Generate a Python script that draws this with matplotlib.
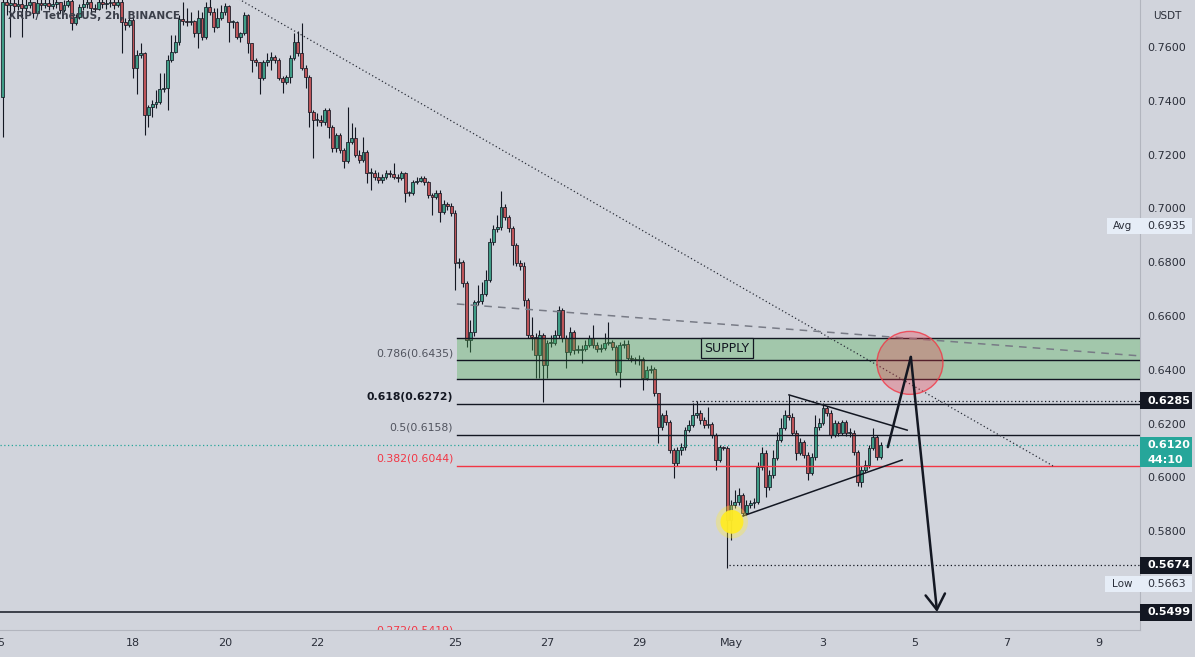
import matplotlib
matplotlib.use('Agg')
import matplotlib.pyplot as plt
import numpy as np
from matplotlib.patches import Rectangle, Ellipse

# ---------------- data ----------------
title = "XRP / TetherUS, 2h, BINANCE"
first_open = 0.7414
start_day = -15.8333      # first candle: Apr 15 04:00 (days relative to May 1 00:00)
bar_days = 1 / 12          # 2h candles

closes = [
    0.7768, 0.7756, 0.7764, 0.7753, 0.7760, 0.7745, 0.7756, 0.7768, 0.7727, 0.7764,
    0.7756, 0.7764, 0.7753, 0.7760, 0.7768, 0.7738, 0.7756, 0.7771, 0.7690, 0.7712,
    0.7749, 0.7760, 0.7768, 0.7745, 0.7742, 0.7768, 0.7760, 0.7764, 0.7768, 0.7756,
    0.7768, 0.7693, 0.7682, 0.7701, 0.7522, 0.7571, 0.7578, 0.7348, 0.7377, 0.7388,
    0.7396, 0.7444, 0.7448, 0.7552, 0.7582, 0.7619, 0.7704, 0.7697, 0.7693, 0.7697,
    0.7652, 0.7708, 0.7637, 0.7749, 0.7731, 0.7675, 0.7708, 0.7731, 0.7753, 0.7693,
    0.7693, 0.7637, 0.7652, 0.7719, 0.7615, 0.7552, 0.7545, 0.7485, 0.7545, 0.7552,
    0.7563, 0.7552, 0.7485, 0.7470, 0.7489, 0.7560, 0.7619, 0.7578, 0.7522, 0.7489,
    0.7359, 0.7329, 0.7329, 0.7322, 0.7366, 0.7303, 0.7225, 0.7273, 0.7217, 0.7177,
    0.7247, 0.7262, 0.7199, 0.7180, 0.7210, 0.7132, 0.7132, 0.7117, 0.7106, 0.7117,
    0.7132, 0.7128, 0.7117, 0.7113, 0.7132, 0.7058, 0.7058, 0.7099, 0.7102, 0.7113,
    0.7099, 0.7050, 0.7043, 0.7058, 0.6987, 0.7017, 0.7009, 0.6983, 0.6797, 0.6801,
    0.6723, 0.6511, 0.6541, 0.6652, 0.6656, 0.6682, 0.6734, 0.6876, 0.6924, 0.6931,
    0.7006, 0.6968, 0.6927, 0.6864, 0.6797, 0.6786, 0.6660, 0.6530, 0.6522, 0.6455,
    0.6530, 0.6418, 0.6500, 0.6500, 0.6530, 0.6623, 0.6519, 0.6467, 0.6541, 0.6474,
    0.6474, 0.6478, 0.6492, 0.6519, 0.6492, 0.6478, 0.6481, 0.6500, 0.6504, 0.6485,
    0.6392, 0.6492, 0.6496, 0.6444, 0.6440, 0.6437, 0.6440, 0.6370, 0.6400, 0.6403,
    0.6314, 0.6188, 0.6232, 0.6206, 0.6102, 0.6054, 0.6102, 0.6113, 0.6177, 0.6195,
    0.6232, 0.6240, 0.6214, 0.6195, 0.6199, 0.6158, 0.6065, 0.6113, 0.6110, 0.5842,
    0.5898, 0.5909, 0.5935, 0.5868, 0.5898, 0.5906, 0.5909, 0.6039, 0.6091, 0.5965,
    0.6009, 0.6073, 0.6140, 0.6184, 0.6232, 0.6225, 0.6166, 0.6091, 0.6132, 0.6084,
    0.6017, 0.6076, 0.6188, 0.6203, 0.6258, 0.6240, 0.6158, 0.6203, 0.6166, 0.6206,
    0.6166, 0.6166, 0.6095, 0.5983, 0.6028, 0.6047, 0.6110, 0.6151, 0.6076, 0.6120,
]
highs = [
    0.7800, 0.7790, 0.7790, 0.7785, 0.7785, 0.7790, 0.7780, 0.7790, 0.7768, 0.7785,
    0.7780, 0.7785, 0.7780, 0.7785, 0.7795, 0.7768, 0.7775, 0.7800, 0.7790, 0.7723,
    0.7760, 0.7780, 0.7790, 0.7785, 0.7760, 0.7785, 0.7780, 0.7780, 0.7790, 0.7780,
    0.7795, 0.7790, 0.7708, 0.7712, 0.7712, 0.7589, 0.7615, 0.7582, 0.7385, 0.7403,
    0.7440, 0.7504, 0.7504, 0.7571, 0.7645, 0.7645, 0.7719, 0.7768, 0.7745, 0.7731,
    0.7701, 0.7738, 0.7731, 0.7768, 0.7790, 0.7745, 0.7745, 0.7756, 0.7764, 0.7756,
    0.7701, 0.7697, 0.7656, 0.7731, 0.7723, 0.7615, 0.7560, 0.7545, 0.7552, 0.7578,
    0.7582, 0.7571, 0.7560, 0.7492, 0.7496, 0.7571, 0.7652, 0.7660, 0.7690, 0.7533,
    0.7496, 0.7366, 0.7355, 0.7348, 0.7374, 0.7374, 0.7311, 0.7281, 0.7281, 0.7225,
    0.7377, 0.7318, 0.7303, 0.7217, 0.7266, 0.7217, 0.7151, 0.7143, 0.7136, 0.7128,
    0.7143, 0.7143, 0.7169, 0.7128, 0.7139, 0.7136, 0.7065, 0.7106, 0.7117, 0.7121,
    0.7121, 0.7102, 0.7058, 0.7069, 0.7069, 0.7032, 0.7024, 0.7020, 0.6994, 0.6816,
    0.6809, 0.6730, 0.6586, 0.6660, 0.6716, 0.6727, 0.6771, 0.6890, 0.6939, 0.6976,
    0.7065, 0.7017, 0.6976, 0.6935, 0.6872, 0.6809, 0.6801, 0.6667, 0.6597, 0.6537,
    0.6548, 0.6537, 0.6511, 0.6530, 0.6548, 0.6637, 0.6630, 0.6530, 0.6560, 0.6548,
    0.6492, 0.6492, 0.6511, 0.6530, 0.6567, 0.6504, 0.6496, 0.6537, 0.6578, 0.6511,
    0.6492, 0.6504, 0.6511, 0.6511, 0.6455, 0.6448, 0.6455, 0.6448, 0.6414, 0.6418,
    0.6411, 0.6314, 0.6240, 0.6251, 0.6214, 0.6110, 0.6113, 0.6128, 0.6188, 0.6214,
    0.6277, 0.6284, 0.6251, 0.6225, 0.6262, 0.6206, 0.6166, 0.6121, 0.6117, 0.6117,
    0.5917, 0.5954, 0.5961, 0.5943, 0.5917, 0.5917, 0.5924, 0.6058, 0.6113, 0.6102,
    0.6028, 0.6102, 0.6169, 0.6221, 0.6251, 0.6306, 0.6240, 0.6177, 0.6147, 0.6140,
    0.6095, 0.6091, 0.6232, 0.6221, 0.6277, 0.6266, 0.6251, 0.6214, 0.6210, 0.6214,
    0.6214, 0.6184, 0.6177, 0.6102, 0.6043, 0.6065, 0.6121, 0.6184, 0.6158, 0.6132,
]
lows = [
    0.7266, 0.7719, 0.7637, 0.7731, 0.7738, 0.7637, 0.7719, 0.7745, 0.7708, 0.7723,
    0.7738, 0.7745, 0.7738, 0.7742, 0.7745, 0.7727, 0.7731, 0.7749, 0.7663, 0.7682,
    0.7704, 0.7738, 0.7745, 0.7731, 0.7731, 0.7738, 0.7745, 0.7742, 0.7749, 0.7742,
    0.7749, 0.7578, 0.7663, 0.7675, 0.7485, 0.7425, 0.7560, 0.7273, 0.7303, 0.7340,
    0.7374, 0.7388, 0.7433, 0.7366, 0.7545, 0.7578, 0.7608, 0.7682, 0.7678, 0.7682,
    0.7637, 0.7597, 0.7626, 0.7630, 0.7719, 0.7656, 0.7671, 0.7701, 0.7719, 0.7619,
    0.7671, 0.7630, 0.7619, 0.7645, 0.7578, 0.7507, 0.7530, 0.7425, 0.7478, 0.7530,
    0.7515, 0.7541, 0.7478, 0.7429, 0.7463, 0.7466, 0.7552, 0.7567, 0.7515, 0.7448,
    0.7303, 0.7188, 0.7307, 0.7307, 0.7311, 0.7262, 0.7210, 0.7210, 0.7206, 0.7151,
    0.7169, 0.7240, 0.7192, 0.7169, 0.7173, 0.7095, 0.7069, 0.7106, 0.7095, 0.7095,
    0.7110, 0.7117, 0.7110, 0.7099, 0.7106, 0.7024, 0.7047, 0.7050, 0.7091, 0.7099,
    0.7088, 0.7039, 0.6976, 0.7035, 0.6950, 0.6980, 0.6994, 0.6972, 0.6697, 0.6779,
    0.6708, 0.6485, 0.6466, 0.6526, 0.6641, 0.6645, 0.6675, 0.6727, 0.6864, 0.6913,
    0.6920, 0.6957, 0.6913, 0.6790, 0.6786, 0.6771, 0.6637, 0.6519, 0.6474, 0.6370,
    0.6370, 0.6281, 0.6370, 0.6485, 0.6492, 0.6519, 0.6504, 0.6407, 0.6455, 0.6459,
    0.6463, 0.6426, 0.6470, 0.6485, 0.6481, 0.6467, 0.6467, 0.6474, 0.6492, 0.6474,
    0.6381, 0.6336, 0.6481, 0.6437, 0.6429, 0.6422, 0.6418, 0.6325, 0.6363, 0.6389,
    0.6303, 0.6128, 0.6177, 0.6195, 0.6091, 0.5998, 0.6043, 0.6084, 0.6102, 0.6169,
    0.6188, 0.6221, 0.6199, 0.6184, 0.6184, 0.6147, 0.6028, 0.6058, 0.6102, 0.5663,
    0.5768, 0.5887, 0.5898, 0.5857, 0.5861, 0.5887, 0.5887, 0.5902, 0.6028, 0.5928,
    0.5954, 0.5998, 0.6065, 0.6132, 0.6177, 0.6214, 0.6158, 0.6065, 0.6084, 0.6073,
    0.5991, 0.6009, 0.6065, 0.6177, 0.6195, 0.6229, 0.6147, 0.6151, 0.6155, 0.6158,
    0.6155, 0.6151, 0.6084, 0.5969, 0.5965, 0.6020, 0.6035, 0.6102, 0.6065, 0.6069,
]

# x-axis (days relative to May 1) and labels
xtick_days = [-16, -13, -11, -9, -6, -4, -2, 0, 2, 4, 6, 8]
xtick_labels = ['15', '18', '20', '22', '25', '27', '29', 'May', '3', '5', '7', '9']
ytick_values = [0.56, 0.58, 0.60, 0.62, 0.64, 0.66, 0.68, 0.70, 0.72, 0.74, 0.76]

# Fibonacci levels
fib_ratios = ['0.786', '0.618', '0.5', '0.382', '0.272']
fib_prices = [0.6435, 0.6272, 0.6158, 0.6044, 0.5419]
fib_colors = ['#131722', '#131722', '#131722', '#f23645', '#f23645']
fib_label_colors = ['#50535e', '#131722', '#50535e', '#f23645', '#f23645']
fib_start_day = -5.96
supply_zone = (0.6366, 0.6520)

# price markers
last_price = 0.6120
countdown = '44:10'
avg_price = 0.6935
low_price = 0.5663
level_6285 = 0.6285
level_5674 = 0.5674
target_level = 0.5499
level_6285_start = -0.85
level_5674_start = -0.04

# drawings (day, price)
trend_dotted = ([-11.0, 7.0], [0.7808, 0.6043])
trend_dashed = ([-5.96, 8.89], [0.6645, 0.6452])
tri_upper = ([1.26, 3.83], [0.6307, 0.6176])
tri_lower = ([0.26, 3.72], [0.5857, 0.6065])
path_up = ([3.41, 3.91], [0.6113, 0.6448])
path_down = ([3.91, 4.48], [0.6448, 0.5500])
circle_center = (3.89, 0.6426)
circle_size = (1.435, 0.0234)
dot_center = (0.02, 0.5835)
dot_size = (0.50, 0.0088)
supply_label_pos = (-0.09, 0.6481)

# ---------------- style ----------------
BG = '#d1d4dc'
TXT = '#2a2e39'
UP = '#3f9c86'
DN = '#bd5459'
EDGE = '#131722'

W, H = 1195, 657
PLOT_W, PLOT_H, AXIS_H = 1140, 630, 27
XMIN, XMAX = -15.8913, 8.8913
YMAX = 0.7775
YMIN = YMAX - PLOT_H / 2690.0

fig = plt.figure(figsize=(W / 100, H / 100), dpi=100, facecolor=BG)
ax = fig.add_axes([0, AXIS_H / H, PLOT_W / W, PLOT_H / H], facecolor=BG)
ax.set_xlim(XMIN, XMAX)
ax.set_ylim(YMIN, YMAX)

c = np.array(closes)
o = np.r_[first_open, c[:-1]]
hi = np.maximum(np.array(highs), np.maximum(o, c))
lo = np.minimum(np.array(lows), np.minimum(o, c))
x = start_day + np.arange(len(c)) * bar_days
up = c >= o

ax.vlines(x, lo, hi, color=EDGE, lw=0.8, zorder=3)
ax.bar(x, np.maximum(np.abs(c - o), 0.00025), bottom=np.minimum(o, c),
       width=bar_days * 0.78, color=np.where(up, UP, DN), edgecolor=EDGE,
       linewidth=0.55, zorder=4)

# supply zone
ax.add_patch(Rectangle((fib_start_day, supply_zone[0]), XMAX - fib_start_day + 1,
                       supply_zone[1] - supply_zone[0], facecolor='#4caf50', alpha=0.35,
                       edgecolor='none', zorder=5))
for yv in supply_zone:
    ax.plot([fib_start_day, XMAX + 1], [yv, yv], color=EDGE, lw=1.0, zorder=6)

# fib lines and labels
for r, p, col, lcol in zip(fib_ratios, fib_prices, fib_colors, fib_label_colors):
    ax.plot([fib_start_day, XMAX + 1], [p, p], color=col, lw=1.0, zorder=6)
    off = 7 / 2690 if p > YMIN else 3 / 2690
    ax.text(fib_start_day - 0.08, p + off, f'{r}({p:.4f})', ha='right', va='center',
            fontsize=7.8, color=lcol, fontweight='bold' if r == '0.618' else 'normal',
            zorder=7, clip_on=True)

# target line
ax.plot([XMIN, XMAX + 1], [target_level, target_level], color=EDGE, lw=1.1, zorder=6)
# dotted levels
ax.plot([XMIN, XMAX + 1], [last_price, last_price], color='#26a69a', lw=0.9,
        ls=(0, (1, 2)), zorder=2)
ax.plot([level_6285_start, XMAX + 1], [level_6285, level_6285], color=EDGE, lw=0.9,
        ls=(0, (1, 2)), zorder=6)
ax.plot([level_5674_start, XMAX + 1], [level_5674, level_5674], color=EDGE, lw=0.9,
        ls=(0, (1, 2)), zorder=6)

# trend lines
ax.plot(*trend_dotted, color='#2a2e39', lw=0.9, ls=(0, (1, 2)), zorder=6)
ax.plot(*trend_dashed, color='#787b86', lw=1.1, ls=(0, (5, 4)), zorder=6)
ax.plot(*tri_upper, color=EDGE, lw=1.1, zorder=6)
ax.plot(*tri_lower, color=EDGE, lw=1.1, zorder=6)

# circle & yellow dot
ax.add_patch(Ellipse(circle_center, *circle_size, facecolor=(0.95, 0.21, 0.27, 0.30),
                     edgecolor=(0.95, 0.21, 0.27, 0.8), lw=1.0, zorder=7))
ax.add_patch(Ellipse(dot_center, dot_size[0] * 1.4, dot_size[1] * 1.4,
                     facecolor=(1.0, 0.92, 0.23, 0.35), edgecolor='none', zorder=7))
ax.add_patch(Ellipse(dot_center, *dot_size, facecolor=(1.0, 0.92, 0.15, 0.95),
                     edgecolor='none', zorder=7))

# arrow path
ax.plot(*path_up, color=EDGE, lw=1.8, zorder=8, solid_capstyle='round')
ax.annotate('', xy=(path_down[0][1], path_down[1][1]),
            xytext=(path_down[0][0], path_down[1][0]),
            arrowprops=dict(arrowstyle='->,head_length=0.55,head_width=0.35', color=EDGE,
                            lw=1.8, shrinkA=0, shrinkB=0, mutation_scale=20), zorder=8)

# supply label
ax.text(*supply_label_pos, 'SUPPLY', ha='center', va='center', fontsize=9, color=EDGE,
        zorder=8, bbox=dict(boxstyle='square,pad=0.25', facecolor='#a2c7ab',
                            edgecolor=EDGE, lw=0.9))

# axes styling
for s in ['top', 'left']:
    ax.spines[s].set_visible(False)
ax.spines['right'].set_color('#b2b5be')
ax.spines['bottom'].set_color('#b2b5be')
ax.spines['right'].set_linewidth(0.8)
ax.spines['bottom'].set_linewidth(0.8)
ax.yaxis.tick_right()
ax.set_yticks(ytick_values)
ax.set_yticklabels([f'{v:.4f}' for v in ytick_values])
ax.tick_params(axis='y', length=0, pad=5, labelsize=8, labelcolor=TXT)
ax.set_xticks(xtick_days[1:])
ax.set_xticklabels(xtick_labels[1:])
ax.tick_params(axis='x', length=0, pad=6, labelsize=8, labelcolor=TXT)
ax.text(-15.91, YMIN - 13 / 2690, xtick_labels[0], ha='center', va='center', fontsize=8,
        color=TXT, clip_on=False)

# title
fig.text(8 / W, 1 - 16 / H, title, ha='left', va='center', fontsize=7.6,
         fontweight='bold', color='#3b3f4a')

# price scale overlay axes
ax2 = fig.add_axes([PLOT_W / W, AXIS_H / H, (W - PLOT_W) / W, PLOT_H / H])
ax2.set_xlim(0, W - PLOT_W)
ax2.set_ylim(YMIN, YMAX)
ax2.axis('off')
ax2.patch.set_alpha(0)

def box(price, text, fc, tc, bold=False, h=17):
    hh = h / 2690 / 2
    ax2.add_patch(Rectangle((0, price - hh), 52, 2 * hh, facecolor=fc, edgecolor='none',
                            clip_on=False, zorder=5))
    ax2.text(7, price, text, ha='left', va='center', fontsize=8, color=tc,
             fontweight='bold' if bold else 'normal', clip_on=False, zorder=6)

ax2.text(27, YMAX - 16 / 2690, 'USDT', ha='center', va='center', fontsize=7.5, color=TXT)

# Avg label
ax2.add_patch(Rectangle((-33, avg_price - 8 / 2690), 85, 16 / 2690, facecolor='#e6edf7',
                        edgecolor='none', clip_on=False, zorder=5))
ax2.text(-17, avg_price, 'Avg', ha='center', va='center', fontsize=7.5, color=TXT,
         clip_on=False, zorder=6)
ax2.text(7, avg_price, f'{avg_price:.4f}', ha='left', va='center', fontsize=8, color=TXT,
         clip_on=False, zorder=6)

box(level_6285, f'{level_6285:.4f}', '#131722', 'white', bold=True)
box(level_5674, f'{level_5674:.4f}', '#131722', 'white', bold=True)
box(target_level, f'{target_level:.4f}', '#131722', 'white', bold=True)

# last price box
ax2.add_patch(Rectangle((0, last_price - 22 / 2690), 52, 30 / 2690, facecolor='#26a69a',
                        edgecolor='none', clip_on=False, zorder=5))
ax2.text(7, last_price, f'{last_price:.4f}', ha='left', va='center', fontsize=8,
         color='white', fontweight='bold', clip_on=False, zorder=6)
ax2.text(7, last_price - 15 / 2690, countdown, ha='left', va='center', fontsize=8,
         color='white', fontweight='bold', clip_on=False, zorder=6)

# Low label
low_y = level_5674 - 19 / 2690
ax2.add_patch(Rectangle((-35, low_y - 8 / 2690), 87, 16 / 2690, facecolor='#e6edf7',
                        edgecolor='none', clip_on=False, zorder=5))
ax2.text(-18, low_y, 'Low', ha='center', va='center', fontsize=7.5, color=TXT,
         clip_on=False, zorder=6)
ax2.text(7, low_y, f'{low_price:.4f}', ha='left', va='center', fontsize=8, color=TXT,
         clip_on=False, zorder=6)

fig.savefig('out.png', dpi=100, facecolor=BG)
